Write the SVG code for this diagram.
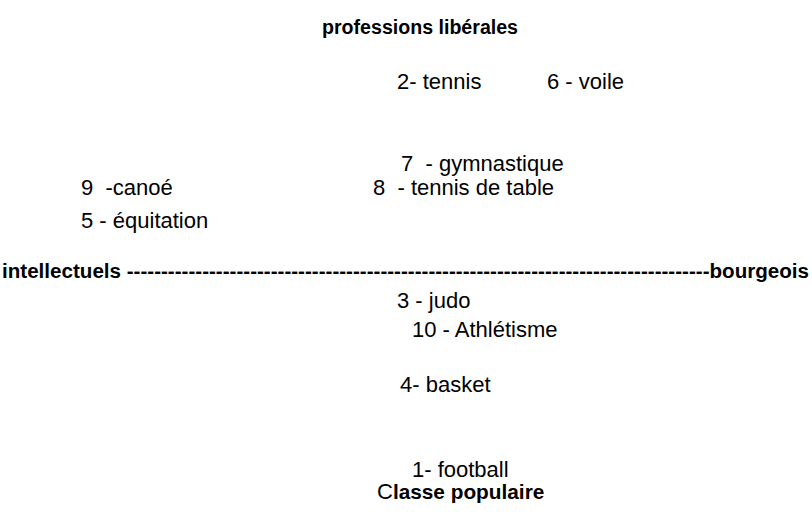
<svg xmlns="http://www.w3.org/2000/svg" width="812" height="512" viewBox="0 0 812 512">
<style>
text{font-family:"Liberation Sans",Arial,sans-serif;fill:#000;white-space:pre}
.r{font-size:22px}
.b{font-size:19.6px;font-weight:bold}
</style>
<rect width="812" height="512" fill="#fff"/>
<g id="axes">
<text id="top" class="b" x="322" y="34">professions libérales</text>
<text id="axis" class="b" x="2" y="278" textLength="807" lengthAdjust="spacingAndGlyphs">intellectuels -------------------------------------------------------------------------------------bourgeois</text>
<text id="bottom" x="377" y="499"><tspan class="r">C</tspan><tspan class="b" style="font-size:20.8px">lasse populaire</tspan></text>
</g>
<g id="sports">
<text class="r" x="397" y="89">2- tennis</text>
<text class="r" x="547" y="89">6 - voile</text>
<text class="r" x="401" y="171">7  - gymnastique</text>
<text class="r" x="81" y="195">9  -canoé</text>
<text class="r" x="373" y="195">8  - tennis de table</text>
<text class="r" x="81" y="228">5 - équitation</text>
<text class="r" x="397" y="308">3 - judo</text>
<text class="r" x="412" y="337">10 - Athlétisme</text>
<text class="r" x="400" y="392">4- basket</text>
<text class="r" x="412" y="477">1- football</text>
</g>
</svg>
